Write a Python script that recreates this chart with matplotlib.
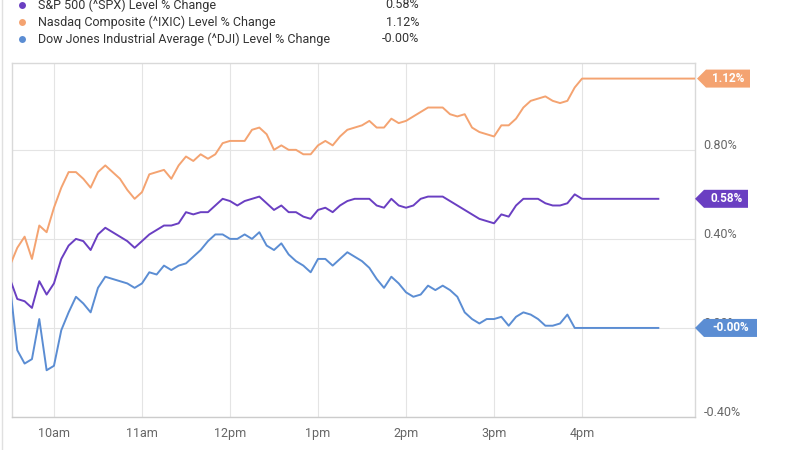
import matplotlib
matplotlib.use('Agg')
import matplotlib.pyplot as plt
from matplotlib.lines import Line2D
from matplotlib.patches import Polygon
from matplotlib.transforms import ScaledTranslation

plt.rcParams['font.family'] = ['Roboto', 'DejaVu Sans']

# minutes after 9:30 open, one reading every 5 minutes
minutes = list(range(0, 395, 5))

spx = [0.22, 0.13, 0.12, 0.09, 0.21, 0.15, 0.20, 0.31, 0.37, 0.40,
       0.39, 0.35, 0.42, 0.45, 0.43, 0.41, 0.39, 0.36, 0.39, 0.42,
       0.44, 0.46, 0.46, 0.47, 0.52, 0.51, 0.52, 0.52, 0.55, 0.58,
       0.57, 0.55, 0.57, 0.58, 0.59, 0.56, 0.53, 0.55, 0.52, 0.52,
       0.50, 0.49, 0.53, 0.54, 0.52, 0.55, 0.57, 0.58, 0.58, 0.58,
       0.55, 0.54, 0.58, 0.55, 0.54, 0.55, 0.58, 0.59, 0.59, 0.59,
       0.57, 0.55, 0.53, 0.51, 0.49, 0.48, 0.47, 0.51, 0.50, 0.55,
       0.58, 0.58, 0.58, 0.56, 0.55, 0.55, 0.56, 0.60, 0.58]

ixic = [0.28, 0.36, 0.41, 0.31, 0.46, 0.43, 0.54, 0.63, 0.70, 0.70,
        0.67, 0.63, 0.70, 0.73, 0.70, 0.67, 0.62, 0.58, 0.61, 0.69,
        0.70, 0.71, 0.67, 0.73, 0.77, 0.75, 0.78, 0.76, 0.78, 0.83,
        0.84, 0.84, 0.84, 0.89, 0.90, 0.87, 0.80, 0.82, 0.80, 0.80,
        0.78, 0.78, 0.82, 0.84, 0.82, 0.86, 0.89, 0.90, 0.91, 0.93,
        0.90, 0.90, 0.94, 0.92, 0.93, 0.95, 0.97, 0.99, 0.99, 0.99,
        0.96, 0.95, 0.96, 0.90, 0.88, 0.87, 0.86, 0.91, 0.91, 0.94,
        0.99, 1.02, 1.03, 1.04, 1.02, 1.01, 1.02, 1.08, 1.12]

dji = [0.19, -0.10, -0.16, -0.14, 0.04, -0.19, -0.17, -0.01, 0.07, 0.14,
       0.11, 0.07, 0.18, 0.23, 0.22, 0.21, 0.20, 0.18, 0.20, 0.25,
       0.24, 0.28, 0.26, 0.28, 0.29, 0.32, 0.35, 0.39, 0.42, 0.42,
       0.40, 0.40, 0.42, 0.40, 0.43, 0.37, 0.35, 0.38, 0.33, 0.30,
       0.28, 0.25, 0.31, 0.31, 0.28, 0.31, 0.34, 0.32, 0.30, 0.27,
       0.22, 0.18, 0.23, 0.20, 0.16, 0.14, 0.15, 0.19, 0.17, 0.19,
       0.17, 0.14, 0.07, 0.04, 0.02, 0.04, 0.04, 0.05, 0.01, 0.05,
       0.07, 0.06, 0.04, 0.01, 0.01, 0.02, 0.06, 0.00, 0.00]

series_names = ['S&P 500 (^SPX) Level % Change',
                'Nasdaq Composite (^IXIC) Level % Change',
                'Dow Jones Industrial Average (^DJI) Level % Change']
last_labels = ['0.58%', '1.12%', '-0.00%']
colors = ['#6a3fc2', '#f4a371', '#5b8dd3']
flat_end = [442, 467, 442]   # where the after-close flat line stops

hour_ticks = [30, 90, 150, 210, 270, 330, 390]
hour_labels = ['10am', '11am', '12pm', '1pm', '2pm', '3pm', '4pm']
pct_ticks = [-0.4, 0.0, 0.4, 0.8]
pct_labels = ['-0.40%', '0.00%', '0.40%', '0.80%']

W, H = 800, 450
fig = plt.figure(figsize=(8, 4.5), dpi=100)
fig.patch.set_facecolor('white')
ax = fig.add_axes([12 / W, 1 - 417 / H, (695 - 12) / W, (417 - 63) / H])

ax.set_xlim(1.4, 467)
ax.set_ylim(-0.4, 1.19)

all_series = [spx, ixic, dji]
for vals, col, end in zip(all_series, colors, flat_end):
    ax.plot(minutes + [end], vals + [vals[-1]], color=col, lw=1.4, zorder=3)

ax.set_xticks(hour_ticks)
ax.set_xticklabels(hour_labels)
ax.set_yticks(pct_ticks)
ax.set_yticklabels(pct_labels)
ax.yaxis.tick_right()
ax.tick_params(axis='both', length=0, labelsize=9, labelcolor='#666666')
ax.tick_params(axis='x', pad=7)
ax.tick_params(axis='y', pad=6)
for lab in ax.get_yticklabels():
    lab.set_transform(lab.get_transform() + ScaledTranslation(0, 4 / 72, fig.dpi_scale_trans))

ax.grid(True, color='#e4e4e4', lw=0.8)
ax.set_axisbelow(True)
for sp in ax.spines.values():
    sp.set_color('#d9d9d9')
    sp.set_linewidth(1.0)
ax.spines['bottom'].set_color('#cccccc')

# value tags on the right edge
fig.canvas.draw()
to_fig = fig.transFigure.inverted()
for vals, col, txt in zip(all_series, colors, last_labels):
    ypix = ax.transData.transform((0, vals[-1]))[1]
    x0 = 695 + (2 if txt == '1.12%' else 0)
    w = 8 + 9 * len(txt)
    pts_px = [(x0, ypix), (x0 + 9, ypix + 9), (x0 + w, ypix + 9),
              (x0 + w, ypix - 9), (x0 + 9, ypix - 9)]
    pts = [(px / W, py / H) for px, py in pts_px]
    fig.patches.append(Polygon(pts, closed=True, facecolor=col, edgecolor='none',
                               transform=fig.transFigure, figure=fig, zorder=5))
    fig.text((x0 + 5 + w / 2) / W, ypix / H, txt, color='white', fontsize=8.5,
             fontweight='bold', ha='center', va='center', zorder=6)

# legend block at the top
for i, (name, col, txt) in enumerate(zip(series_names, colors, last_labels)):
    y = 1 - (5 + 17 * i) / H
    fig.add_artist(Line2D([22 / W], [y], marker='o', markersize=5, color=col,
                          markeredgewidth=0, transform=fig.transFigure))
    fig.text(38 / W, y, name, fontsize=9, color='#333333', va='center')
    fig.text(419 / W, y, txt, fontsize=9, color='#333333', va='center', ha='right')

# outer widget frame line on the left
fig.add_artist(Line2D([2 / W, 2 / W], [0, 1], color='#e0e0e0', lw=1, transform=fig.transFigure))

fig.savefig('out.png', dpi=100)
